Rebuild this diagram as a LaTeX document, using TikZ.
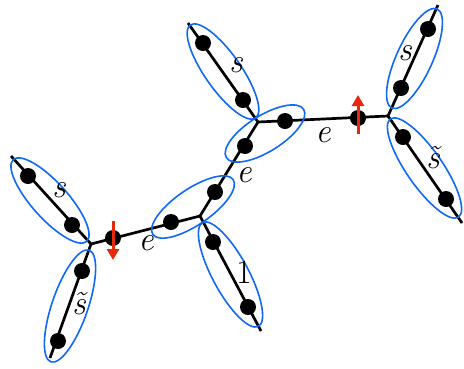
\documentclass[tikz,border=0pt]{standalone}
\usepackage{fontspec}
\usetikzlibrary{calc,shapes.geometric,arrows.meta}
\definecolor{ellblue}{RGB}{15,105,245}
\definecolor{spinred}{RGB}{230,40,15}
\tikzset{
  dot/.style={circle,fill=black,inner sep=0pt,minimum size=16pt},
  ellstyle/.style={draw=ellblue,line width=1.6pt,ellipse,inner sep=0pt},
  leg/.style={line width=2.7pt,black},
  lbl/.style={inner sep=0pt,font=\fontsize{34}{36}\selectfont\itshape},
  spin/.style={draw=spinred,line width=3pt,-{Triangle[length=11pt,width=12pt]}}
}
\newcommand\pairell[3]{%
  \path let \p1=(#2), \p2=(#3),
    \n1={atan2(\y2-\y1,\x2-\x1)},
    \n2={veclen(\x2-\x1,\y2-\y1)+44pt} in
    node[ellstyle,rotate=\n1,minimum width=\n2,minimum height=36pt] (#1) at ($(#2)!0.5!(#3)$) {};}
\begin{document}
\begin{tikzpicture}[x=1pt,y=-1pt]
\useasboundingbox (0,0) rectangle (464,368);
% junctions
\coordinate (J1) at (91,244);
\coordinate (J2) at (200,216);
\coordinate (J3) at (258,122);
\coordinate (J4) at (388,116);
% free ends
\coordinate (E1) at (11,156);
\coordinate (E2) at (50,358);
\coordinate (E3) at (261,331);
\coordinate (E4) at (188,23);
\coordinate (E5) at (438,5);
\coordinate (E6) at (462,223);
% lines
\draw[leg] (E1) -- (J1) -- (E2);
\draw[leg] (J1) -- (J2) -- (J3) -- (J4);
\draw[leg] (J2) -- (E3);
\draw[leg] (J3) -- (E4);
\draw[leg] (E5) -- (J4) -- (E6);
% dots
\node[dot] (a1) at (28,176) {};
\node[dot] (a2) at (72,225) {};
\node[dot] (b1) at (82,271) {};
\node[dot] (b2) at (58,341) {};
\node[dot] (c0) at (113,238) {};
\node[dot] (c1) at (171,222) {};
\node[dot] (c2) at (215,192) {};
\node[dot] (d1) at (213,242) {};
\node[dot] (d2) at (248,307) {};
\node[dot] (f1) at (245,146) {};
\node[dot] (f2) at (285,121) {};
\node[dot] (g1) at (203,43) {};
\node[dot] (g2) at (243,100) {};
\node[dot] (h0) at (358,118) {};
\node[dot] (k1) at (428,29) {};
\node[dot] (k2) at (401,88) {};
\node[dot] (m1) at (403,137) {};
\node[dot] (m2) at (446,199) {};
% ellipses
\pairell{ea}{a1}{a2}
\pairell{eb}{b1}{b2}
\pairell{ec}{c1}{c2}
\pairell{ed}{d1}{d2}
\pairell{ef}{f1}{f2}
\pairell{eg}{g1}{g2}
\pairell{ek}{k1}{k2}
\pairell{em}{m1}{m2}
% spins
\coordinate (s1a) at (113,221);
\coordinate (s1b) at (113,260);
\coordinate (s2a) at (358,134);
\coordinate (s2b) at (358,95);
\draw[spin] (s1a) -- (s1b);
\draw[spin] (s2a) -- (s2b);
% labels
\node[lbl] (l1) at (59,190) {s};
\node[lbl] (l2) at (79,304) {\~{s}};
\node[lbl] (l3) at (146,243) {e};
\node[lbl] (l4) at (244,175) {e};
\node[lbl,font=\fontsize{34}{36}\selectfont\upshape] (l5) at (244,272) {1};
\node[lbl] (l6) at (236,65) {s};
\node[lbl] (l7) at (323,135) {e};
\node[lbl] (l8) at (405,53) {s};
\node[lbl] (l9) at (433,158) {\~{s}};
\end{tikzpicture}
\end{document}
